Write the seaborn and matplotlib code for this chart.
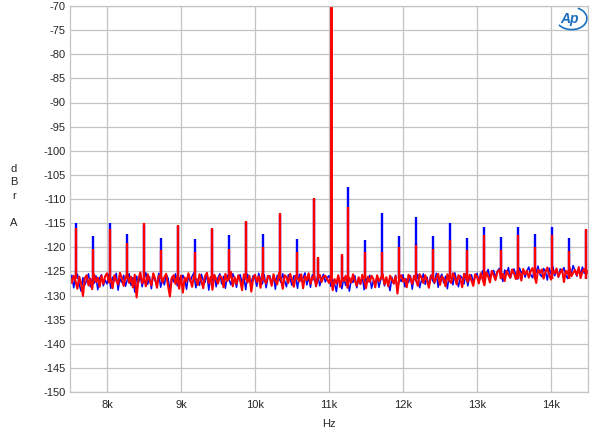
import numpy as np
import pandas as pd
import matplotlib
matplotlib.use("Agg")
import matplotlib.pyplot as plt
from matplotlib.patches import Arc
from matplotlib.ticker import MultipleLocator, FuncFormatter
import seaborn as sns

# --- data (J-Test style spectrum, 11.025 kHz tone) ---
# noise floor sampled every 25 Hz from 7.5 kHz to 14.5 kHz
noise_start, noise_step = 7500, 25

red_noise = [
    -126.2, -127.4, -125.9, -127.0, -128.6, -126.1, -127.5, -130.1, -126.4, -125.8,
    -127.9, -126.5, -128.7, -125.6, -127.2, -126.3, -128.2, -125.9, -127.6, -126.0,
    -125.4, -127.3, -126.6, -128.5, -125.8, -126.9, -127.7, -125.3, -126.4, -128.0,
    -126.2, -125.5, -127.4, -126.1, -128.3, -125.7, -130.4, -126.6, -125.2, -127.5,
    -126.3, -128.1, -125.6, -126.8, -127.9, -125.4, -126.5, -128.4, -126.0, -125.7,
    -127.3, -126.2, -125.5, -128.0, -130.2, -126.4, -125.8, -127.6, -126.1, -128.6,
    -125.9, -129.4, -126.3, -127.1, -125.4, -126.7, -128.2, -125.8, -126.5, -127.8,
    -125.6, -126.9, -128.5, -126.0, -125.3, -127.4, -126.2, -128.8, -125.7, -126.6,
    -127.5, -125.9, -126.3, -128.3, -125.5, -127.0, -126.4, -125.1, -128.1, -126.2,
    -127.6, -125.8, -126.9, -128.9, -125.6, -126.4, -127.3, -125.9, -129.2, -126.5,
    -125.7, -127.2, -126.0, -128.4, -125.4, -126.8, -127.5, -125.9, -126.3, -128.0,
    -125.6, -126.9, -127.7, -125.3, -126.5, -128.6, -125.8, -126.2, -127.4, -125.5,
    -126.7, -128.2, -125.9, -126.4, -127.1, -125.6, -128.5, -126.0, -126.8, -125.4,
    -127.6, -126.3, -125.8, -128.1, -126.5, -125.7, -127.2, -126.1, -125.9, -126.6,
    -127.4, -126.0, -128.9, -126.6, -127.5, -125.8, -128.2, -126.4, -127.0, -125.9,
    -128.4, -126.3, -127.3, -125.6, -126.9, -128.0, -126.2, -127.6, -125.7, -126.8,
    -128.5, -126.1, -127.2, -125.9, -126.6, -128.3, -125.8, -127.0, -126.4, -125.6,
    -127.7, -126.2, -128.1, -125.9, -126.7, -127.5, -126.0, -129.6, -126.3, -125.8,
    -127.1, -126.5, -128.3, -125.7, -126.4, -127.6, -125.9, -126.8, -128.0, -125.6,
    -126.3, -127.4, -125.8, -126.9, -128.4, -126.1, -125.7, -127.3, -126.4, -125.5,
    -127.8, -126.0, -126.6, -128.1, -125.6, -126.9, -127.4, -125.4, -126.2, -127.7,
    -125.8, -126.5, -128.3, -125.5, -126.3, -127.2, -125.7, -126.9, -128.0, -125.6,
    -126.1, -127.5, -125.4, -126.6, -127.9, -125.2, -126.0, -127.3, -124.9, -125.8,
    -126.8, -125.1, -124.7, -126.4, -125.5, -127.0, -124.9, -125.7, -126.3, -124.6,
    -125.4, -126.6, -124.8, -125.2, -126.9, -124.5, -125.6, -124.9, -126.3, -125.0,
    -124.3, -125.8, -127.4, -124.7, -125.3, -124.6, -126.5, -125.1, -124.2, -125.7,
    -126.7, -124.8, -125.4, -124.4, -126.1, -125.2, -124.6, -127.2, -124.9, -125.5,
    -124.2, -126.0, -125.3, -124.7, -125.8, -124.1, -126.4, -125.0, -124.5, -125.6,
    -124.9,
]

blue_noise = [
    -127.0, -125.8, -128.4, -126.2, -125.6, -127.7, -129.1, -126.3, -127.8, -126.9,
    -125.5, -128.2, -126.6, -127.5, -125.9, -128.8, -126.4, -125.7, -128.0, -126.8,
    -127.6, -125.6, -128.5, -126.2, -127.0, -125.4, -128.9, -126.5, -127.3, -125.8,
    -128.1, -126.7, -125.5, -127.9, -126.3, -129.3, -126.0, -127.4, -125.9, -128.2,
    -126.5, -125.3, -127.7, -126.1, -128.6, -125.8, -126.9, -127.5, -125.4, -128.3,
    -126.6, -127.8, -125.7, -126.4, -128.9, -126.2, -127.2, -125.5, -128.0, -126.3,
    -127.4, -125.8, -126.6, -128.7, -125.9, -127.1, -126.0, -125.3, -128.4, -126.6,
    -127.9, -125.6, -126.8, -127.3, -125.4, -128.9, -126.1, -127.0, -125.7, -128.2,
    -126.3, -125.5, -127.6, -126.0, -128.5, -125.8, -126.7, -127.8, -125.5, -126.4,
    -128.3, -126.1, -125.7, -127.4, -126.2, -128.8, -125.6, -126.9, -127.2, -125.9,
    -126.5, -128.1, -125.4, -126.8, -127.6, -125.7, -128.4, -126.3, -125.9, -127.5,
    -126.0, -128.7, -125.8, -126.4, -127.3, -125.5, -126.9, -128.2, -125.7, -126.6,
    -127.9, -125.9, -126.3, -128.5, -125.6, -127.0, -126.4, -125.3, -127.8, -126.1,
    -128.3, -125.7, -126.8, -127.4, -125.8, -128.0, -126.5, -125.6, -127.2, -126.3,
    -125.9, -128.1, -126.7, -127.6, -129.2, -126.0, -127.4, -128.6, -126.3, -127.9,
    -126.5, -129.1, -126.8, -127.3, -125.9, -128.4, -126.6, -127.7, -126.1, -128.8,
    -126.4, -127.2, -125.8, -128.5, -126.9, -127.5, -126.0, -128.3, -126.7, -125.9,
    -128.0, -126.5, -127.4, -129.0, -126.2, -127.6, -125.8, -128.9, -126.4, -127.1,
    -125.7, -128.2, -126.6, -127.3, -125.9, -128.7, -126.1, -127.0, -125.6, -128.4,
    -126.8, -125.5, -127.7, -126.2, -128.1, -125.8, -126.9, -127.5, -125.4, -128.3,
    -126.3, -125.6, -127.4, -126.0, -128.6, -125.7, -126.5, -127.8, -125.3, -126.9,
    -128.2, -125.9, -126.4, -127.6, -125.5, -128.0, -126.2, -125.7, -127.3, -126.1,
    -125.4, -127.0, -126.3, -124.9, -126.8, -125.6, -124.6, -126.5, -125.3, -124.8,
    -126.2, -125.0, -124.4, -125.9, -127.1, -124.7, -125.5, -124.2, -126.4, -125.2,
    -124.5, -125.8, -126.6, -124.3, -125.4, -124.8, -126.2, -124.9, -124.1, -125.7,
    -126.3, -124.6, -125.2, -123.9, -125.6, -126.1, -124.4, -125.0, -126.8, -124.3,
    -125.5, -124.0, -125.9, -124.7, -126.2, -124.5, -125.1, -124.2, -125.8, -126.5,
    -124.6, -125.3, -123.8, -125.0, -126.0, -124.4, -125.6, -124.1, -125.4, -124.7,
    -125.2,
]

# spurs at multiples of Fs/192 (229.6875 Hz), harmonic numbers 33..63 (48 = tone)
spur_harmonics = [33, 34, 35, 36, 37, 38, 39, 40, 41, 42, 43, 44, 45, 46, 47,
                  49, 50, 51, 52, 53, 54, 55, 56, 57, 58, 59, 60, 61, 62, 63]
spur_spacing = 229.6875
red_spurs = [-116.0, -120.3, -116.3, -119.2, -115.0, -120.6, -115.3, -121.0, -116.0, -120.3,
             -114.5, -120.0, -113.0, -121.0, -109.7,
             -111.7, -121.0, -121.0, -120.0, -119.6, -120.4, -118.5, -120.6, -117.4, -120.6,
             -117.4, -119.9, -117.5, -120.8, -116.2]
blue_spurs = [-115.0, -117.7, -115.0, -117.2, -115.3, -118.0, -115.6, -118.3, -116.3, -117.4,
              -114.8, -117.2, -113.3, -118.2, -110.0,
              -107.6, -118.4, -112.8, -117.6, -113.7, -117.7, -114.9, -118.0, -115.8, -117.8,
              -115.7, -117.3, -115.8, -118.0, -116.5]
spur_base = -126.5

# small sidebands close to the tone, and the tone itself (off scale)
side_freqs = [10850, 11180]
red_side = [-122.0, -121.4]
blue_side = [-122.5, -121.9]
tone_freq = 11025
tone_level = -3.0

noise_freqs = [noise_start + noise_step * i for i in range(len(red_noise))]
df = pd.concat([pd.DataFrame({"Hz": noise_freqs, "dBr": blue_noise, "ch": "L"}),
                pd.DataFrame({"Hz": noise_freqs, "dBr": red_noise, "ch": "R"})],
               ignore_index=True)
spur_freqs = [h * spur_spacing for h in spur_harmonics] + side_freqs

sns.set_style("white")
plt.rcParams["font.family"] = ["Liberation Sans", "DejaVu Sans"]

fig = plt.figure(figsize=(6.0, 4.37), dpi=100)
ax = fig.add_axes([70 / 600, 1 - 392 / 437, 518 / 600, 386 / 437])

sns.lineplot(data=df, x="Hz", y="dBr", hue="ch", palette={"L": "#0000ff", "R": "#ff0000"},
             hue_order=["L", "R"], estimator=None, sort=True, linewidth=1.3,
             legend=False, ax=ax)
# red trace a touch heavier so it covers most of the blue, as in the original
ax.lines[0].set_linewidth(1.1)
ax.lines[1].set_linewidth(1.5)

# discrete spurs and the test tone
ax.vlines(spur_freqs, spur_base, blue_spurs + blue_side, color="#0000ff",
          linewidth=1.7, zorder=1.9)
ax.vlines(spur_freqs, spur_base, red_spurs + red_side, color="#ff0000",
          linewidth=1.7, zorder=2.1)
ax.vlines([tone_freq], spur_base, [tone_level], color="#ff0000", linewidth=2.1, zorder=2.1)

ax.set_xlim(7500, 14500)
ax.set_ylim(-150, -70)
ax.xaxis.set_major_locator(MultipleLocator(1000))
ax.xaxis.set_minor_locator(MultipleLocator(100))
ax.yaxis.set_major_locator(MultipleLocator(5))
ax.yaxis.set_minor_locator(MultipleLocator(0.5))
ax.xaxis.set_major_formatter(FuncFormatter(lambda x, p: f"{int(round(x / 1000))}k"))
ax.yaxis.set_major_formatter(FuncFormatter(lambda y, p: f"{int(y)}"))

grid_col = "#c4c4c4"
ax.grid(True, which="major", color=grid_col, linewidth=0.9)
ax.set_axisbelow(True)
for s in ax.spines.values():
    s.set_color(grid_col)
    s.set_linewidth(0.9)

ax.tick_params(axis="x", which="both", direction="in", color=grid_col, width=0.9,
               labelsize=8, pad=6)
ax.tick_params(axis="x", which="minor", length=10)
ax.tick_params(axis="x", which="major", length=0)
ax.tick_params(axis="y", which="both", direction="in", color=grid_col, width=0.7,
               labelsize=8, pad=3, length=4)

ax.set_xlabel("Hz", fontsize=8, labelpad=6)
ax.set_ylabel("")
fig.text(14 / 600, 1 - 196 / 437, "d\nB\nr\n\nA", fontsize=8, ha="center",
         va="center", linespacing=1.45)

# Ap logo
ax.add_patch(Arc((0.968, 0.968), 0.06, 0.058, angle=-15, theta1=-130, theta2=80,
                 transform=ax.transAxes, color="#1a6fc0", linewidth=1.2))
ax.text(0.964, 0.966, "Ap", transform=ax.transAxes, fontsize=10, color="#1a6fc0",
        style="italic", fontweight="bold", ha="center", va="center")

fig.savefig("out.png", dpi=100)
